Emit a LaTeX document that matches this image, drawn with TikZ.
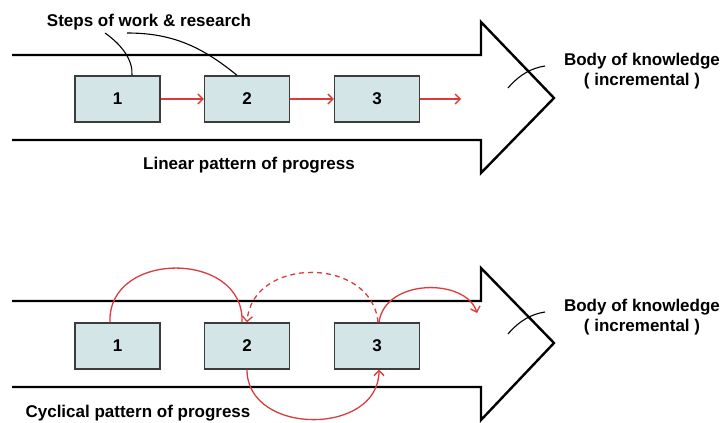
\documentclass[tikz,border=0pt]{standalone}
\usepackage{fontspec}
\setmainfont{Liberation Sans}
\usetikzlibrary{arrows.meta,calc}
\definecolor{boxfill}{HTML}{D4E5E8}
\definecolor{boxline}{HTML}{3C3C3C}
\definecolor{flowred}{HTML}{DD3B3B}
\begin{document}
\begin{tikzpicture}[x=1pt,y=-1pt,
  stepbox/.style={draw=boxline,line width=1.4pt,fill=boxfill,minimum width=85pt,minimum height=46pt,inner sep=0pt,font=\fontsize{17}{20}\selectfont\bfseries},
  label/.style={font=\fontsize{17}{20}\selectfont\bfseries,inner sep=0pt,align=center},
  bigarrow/.style={draw=black,line width=2.4pt,line join=miter},
  flow/.style={draw=flowred,line width=1.3pt,-{Straight Barb[length=5pt,width=10pt,line width=1.3pt]}},
  note/.style={draw=black,line width=1.1pt}]
\useasboundingbox (0,0) rectangle (723,423);

% ---- linear pattern ----
\draw[bigarrow] (12,55) -- (481,55) -- (481,22) -- (554,98) -- (481,173) -- (481,140) -- (12,140);
\node[stepbox] (a1) at (117.5,99) {1};
\node[stepbox] (a2) at (247,99) {2};
\node[stepbox] (a3) at (377,99) {3};
\coordinate (aout) at (461,99);
\draw[flow] (a1) -- (a2);
\draw[flow] (a2) -- (a3);
\draw[flow] (a3) -- (aout);

\node[label] (steps) at (149,22) {Steps of work \& research};
\coordinate (s1) at (105,33);
\coordinate (s2) at (127,33);
\draw[note] (s1) .. controls (122,45) and (133,60) .. ([xshift=14.5pt]a1.north);
\draw[note] (s2) .. controls (170,33) and (200,45) .. ([xshift=-10pt]a2.north);

\node[label] (linear) at (249,165) {Linear pattern of progress};
\node[label] (bodyA) at (642,71) {Body of knowledge\\( incremental )};
\coordinate (kA1) at (508,88);
\coordinate (kA2) at (545,66);
\draw[note] (kA1) .. controls (520,74) and (532,68) .. (kA2);

% ---- cyclical pattern ----
\draw[bigarrow] (12,301) -- (481,301) -- (481,268) -- (554,343) -- (481,420) -- (481,387) -- (12,387);
\node[stepbox] (b1) at (117.5,346) {1};
\node[stepbox] (b2) at (247,346) {2};
\node[stepbox] (b3) at (377,346) {3};
\coordinate (bout) at (477,313);

\draw[draw=flowred,line width=1.3pt] ([xshift=-7.5pt]b1.north) .. controls (107,250) and (245,250) .. ([xshift=-5pt]b2.north);
\draw[flow,dashed,dash pattern=on 5pt off 4pt] ([xshift=1pt]b3.north) .. controls (372,256) and (252,256) .. ([xshift=0pt]b2.north);
\draw[flow] ([xshift=2pt]b3.north) .. controls (385,278) and (466,278) .. (bout);
\draw[flow] (b2.south) .. controls (247,436) and (379,436) .. ([xshift=2pt]b3.south);

\node[label] (cyclic) at (138,413) {Cyclical pattern of progress};
\node[label] (bodyB) at (642,317) {Body of knowledge\\( incremental )};
\coordinate (kB1) at (508,334);
\coordinate (kB2) at (545,312);
\draw[note] (kB1) .. controls (520,320) and (532,314) .. (kB2);
\end{tikzpicture}
\end{document}
